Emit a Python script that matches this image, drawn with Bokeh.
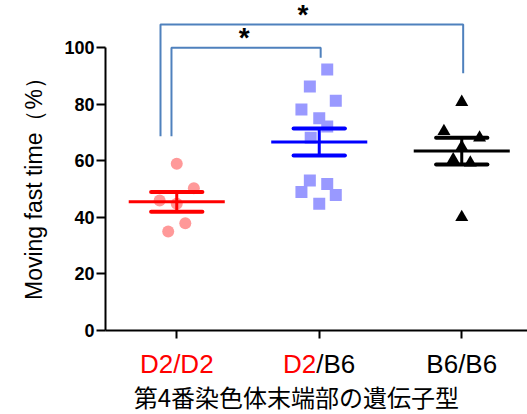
import numpy as np
from bokeh.plotting import figure
from bokeh.models import FixedTicker, Range1d, LinearAxis
from bokeh.embed import file_html
from bokeh.resources import INLINE
from bokeh.core.properties import value
import math

# ---- data ----
groups = ["D2/D2", "D2/B6", "B6/B6"]
d2d2_vals = [58.9, 50.3, 45.9, 44.8, 37.9, 35.0]
d2d2_jit = [0.0, 0.12, -0.12, 0.0, 0.06, -0.06]
d2b6_vals = [92.2, 86.2, 81.2, 78.1, 75.0, 72.1, 68.1, 53.0, 51.8, 48.9, 47.9, 44.8]
d2b6_jit = [0.056, -0.066, 0.116, -0.125, 0.0, 0.056, -0.06, -0.066, 0.056, -0.125, 0.116, 0.0]
b6b6_vals = [80.7, 70.4, 68.1, 64.8, 60.4, 59.3, 40.0]
b6b6_jit = [0.0, -0.125, 0.125, 0.0, -0.06, 0.06, 0.0]
y_ticks = [0, 20, 40, 60, 80, 100]
y_title = "Moving fast time（%）"
x_title = "第4番染色体末端部の遺伝子型"
# significance comparisons: (group a, group b, bracket top, left leg end, right leg end, mark)
comparisons = [(0, 1, 99.9, 68.6, 96.4, "*"), (0, 2, 108.1, 68.6, 90.9, "*")]

FONT = "Liberation Sans"
pt_colors = ["#FF9999", "#9999FF", "#000000"]
mean_colors = ["#FF0000", "#0000FF", "#000000"]
markers = ["circle", "square", "triangle"]
sizes = [12, 12, 13]
BR = "#4F81BD"

# frame fills the whole canvas; axes are pinned at x=0 / y=0
p = figure(width=527, height=414, output_backend="svg", toolbar_location=None,
           x_range=Range1d(-0.7368, 2.9614), y_range=Range1d(-29.68, 116.61),
           x_axis_location=None, y_axis_location=None,
           min_border_left=0, min_border_right=0, min_border_top=0, min_border_bottom=0)
p.outline_line_color = None
p.grid.visible = False
p.background_fill_color = "white"

yax = LinearAxis(fixed_location=0, ticker=FixedTicker(ticks=y_ticks), bounds=(0, 100))
yax.minor_tick_line_color = None
yax.major_tick_out = 9
yax.major_tick_in = 0
yax.major_label_standoff = 2
yax.major_label_text_font = FONT
yax.major_label_text_font_style = "bold"
yax.major_label_text_font_size = "18px"
yax.major_label_text_color = "black"

xax = LinearAxis(fixed_location=0, ticker=FixedTicker(ticks=[0.5, 1.5, 2.5]), bounds=(0, 2.9614))
xax.major_label_overrides = {0.5: "", 1.5: "", 2.5: ""}
xax.minor_tick_line_color = None
xax.major_tick_out = 8
xax.major_tick_in = 0
for ax in (xax, yax):
    ax.axis_line_width = 2
    ax.major_tick_line_width = 2
    ax.axis_line_color = "black"
    ax.major_tick_line_color = "black"
p.add_layout(yax, "left")
p.add_layout(xax, "below")

all_vals = [d2d2_vals, d2b6_vals, b6b6_vals]
all_jit = [d2d2_jit, d2b6_jit, b6b6_jit]

for i, (vals, jit) in enumerate(zip(all_vals, all_jit)):
    cx = i + 0.5
    xs = [cx + j for j in jit]
    p.scatter(xs, vals, marker=markers[i], size=sizes[i], color=pt_colors[i], line_color=None)

for i, vals in enumerate(all_vals):
    cx = i + 0.5
    v = np.array(vals)
    m = v.mean()
    sem = v.std(ddof=1) / math.sqrt(len(v))
    c = mean_colors[i]
    p.segment([cx - 0.337], [m], [cx + 0.337], [m], line_color=c, line_width=3)
    p.segment([cx], [m - sem], [cx], [m + sem], line_color=c, line_width=3)
    p.segment([cx - 0.18, cx - 0.18], [m - sem, m + sem], [cx + 0.18, cx + 0.18], [m - sem, m + sem],
              line_color=c, line_width=4, line_cap="round")

# significance brackets
left_off = [-0.037, -0.114]
star_dx = [-2, -9]
for k, (a, b, top, lend, rend, mark) in enumerate(comparisons):
    xa = a + 0.5 + left_off[k]
    xb = b + 0.5 + 0.01
    p.line([xa, xa, xb, xb], [lend, top, top, rend], line_color=BR, line_width=2)
    p.text([(xa + xb) / 2], [top + 3.5], text=[mark], text_align="center", text_baseline="middle",
           text_font=value(FONT), text_font_style="bold", text_font_size="28px", text_color="black",
           x_offset=star_dx[k])

# category labels (two-colour)
lab_y = -12.0
def lab(x, text, color, align, dx=0):
    p.text([x], [lab_y], text=[text], text_color=color, text_align=align,
           text_baseline="middle", text_font=value(FONT), text_font_size="26px", x_offset=dx)

lab(0.5, groups[0], "#FF0000", "center")
g1a, g1b = groups[1].split("/")
lab(1.5, g1a, "#FF0000", "right", -3)
lab(1.5, "/" + g1b, "black", "left", -3)
lab(2.5, groups[2], "black", "center")

p.text([1.34], [-23.2], text=[x_title], text_align="center", text_baseline="middle",
       text_font=value("Noto Sans CJK JP"), text_font_size="24px", text_color="black")
p.text([-0.505], [52.1], text=[y_title], text_align="center", text_baseline="middle",
       angle=math.pi / 2, text_font=value(FONT), text_font_size="23px", text_color="black")

open("out.html", "w").write(file_html(p, INLINE))
